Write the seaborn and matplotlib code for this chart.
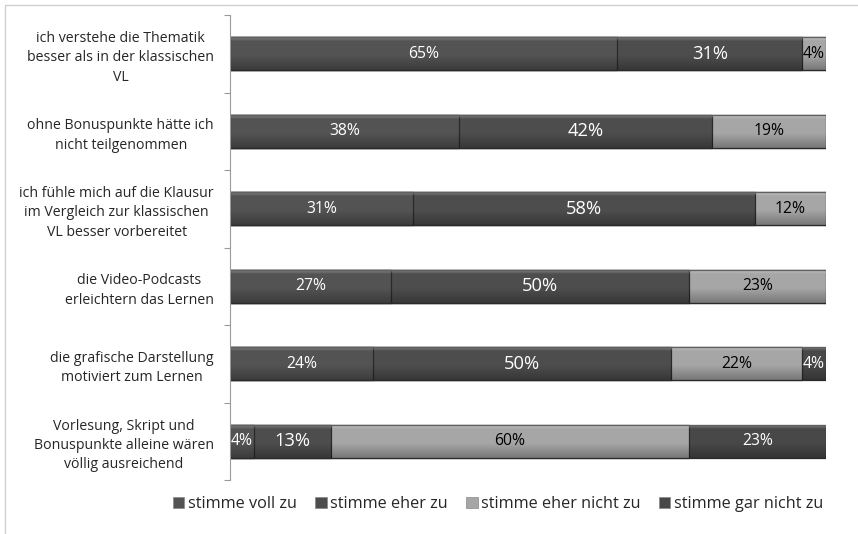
import matplotlib
matplotlib.use("Agg")
import matplotlib.pyplot as plt
import seaborn as sns
import numpy as np
import pandas as pd
from matplotlib.patches import Rectangle, Patch

sns.set_theme(style="white")
plt.rcParams['font.family'] = ['Open Sans', 'DejaVu Sans']

categories = [
    "ich verstehe die Thematik\nbesser als in der klassischen\nVL",
    "ohne Bonuspunkte hätte ich\nnicht teilgenommen",
    "ich fühle mich auf die Klausur\nim Vergleich zur klassischen\nVL besser vorbereitet",
    "die Video-Podcasts\nerleichtern das Lernen",
    "die grafische Darstellung\nmotiviert zum Lernen",
    "Vorlesung, Skript und\nBonuspunkte alleine wären\nvöllig ausreichend",
]
series_names = ["stimme voll zu", "stimme eher zu", "stimme eher nicht zu", "stimme gar nicht zu"]
voll_zu = [65, 38, 31, 27, 24, 4]
eher_zu = [31, 42, 58, 50, 50, 13]
eher_nicht = [4, 19, 12, 23, 22, 60]
gar_nicht = [0, 0, 0, 0, 4, 23]

colors = ["#535353", "#4d4d4d", "#a6a6a6", "#484848"]
text_colors = ["white", "white", "black", "white"]
label_sizes = [11.3, 13.2, 11.3, 11.3]

vals = np.array([voll_zu, eher_zu, eher_nicht, gar_nicht], dtype=float)
totals = vals.sum(axis=0)
norm = vals / totals * 100
cum = np.cumsum(norm, axis=0)

fig = plt.figure(figsize=(8.58, 5.34), dpi=100)
ax = fig.add_axes([230/858, 1-480/534, 596/858, 465/534])

bar_w = 0.42
# draw cumulative bars from the largest to smallest (stacked look)
for i in range(3, -1, -1):
    df = pd.DataFrame({"cat": categories, "val": cum[i]})
    sns.barplot(data=df, x="val", y="cat", color=colors[i], orient="h",
                width=bar_w, ax=ax, edgecolor="#2a2a2a", linewidth=0.9,
                saturation=1, order=categories)

# bevel-like shading overlay per row
n = 64
t = np.linspace(0, 1, n)
grad = np.zeros((n, 1, 4))
white_a = np.clip(0.28 * (1 - t / 0.12), 0, None)
black_a = np.clip(0.28 * (t - 0.55) / 0.45, 0, None)
grad[:, 0, :3] = np.where((white_a > 0)[:, None], 1.0, 0.0)
grad[:, 0, 3] = white_a + black_a
for j in range(len(categories)):
    ax.imshow(grad, extent=(0, cum[3, j], j + bar_w / 2, j - bar_w / 2),
              aspect="auto", zorder=2, interpolation="bilinear")

# annotations
for j in range(len(categories)):
    for i in range(4):
        v = vals[i, j]
        if v <= 0:
            continue
        start = cum[i, j] - norm[i, j]
        ax.text(start + norm[i, j] / 2, j, f"{int(v)}%", ha="center", va="center",
                color=text_colors[i], fontsize=label_sizes[i], zorder=3)

ax.set_xlim(0, 100)
ax.set_ylim(5.5, -0.5)
ax.set_xlabel("")
ax.set_ylabel("")
ax.set_xticks([])
ax.set_yticks(range(len(categories)))
ax.set_yticklabels(categories, fontsize=10.2, multialignment="center", linespacing=1.4)
ax.tick_params(axis="y", length=0, pad=11.5)
ax.set_yticks(np.arange(-0.5, 6.0, 1.0), minor=True)
ax.tick_params(axis="y", which="minor", length=4, color="#9a9a9a", width=0.8, left=True)
for s in ["top", "right", "bottom"]:
    ax.spines[s].set_visible(False)
ax.spines["left"].set_color("#9a9a9a")
ax.spines["left"].set_linewidth(0.8)

handles = [Patch(facecolor=colors[i], edgecolor="#888888", linewidth=0.5) for i in range(4)]
fig.legend(handles, series_names, loc="center", bbox_to_anchor=(498/858, 1-504/534),
           ncol=4, frameon=False, fontsize=11.7, handlelength=0.7, handleheight=0.7,
           handletextpad=0.2, columnspacing=1.15)

fig.patches.append(Rectangle((5/858, -0.1), 1.2, 1 - 5/534 + 0.1, transform=fig.transFigure,
                             fill=False, edgecolor="#d0d0d0", linewidth=1, zorder=0))

fig.savefig("out.png", dpi=100)
